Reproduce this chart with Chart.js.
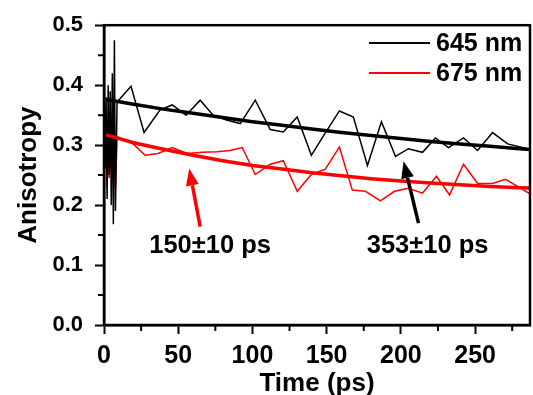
<!DOCTYPE html>
<html>
<head>
<meta charset="utf-8">
<script src="https://cdn.jsdelivr.net/npm/chart.js@4.4.1/dist/chart.umd.min.js"></script>
<style>
    body { margin: 0; background: #fff; }
    #wrap { width: 533px; height: 395px; position: relative; }
</style>
</head>
<body>
<div id="wrap"><canvas id="anisoChart"></canvas></div>
<script>
// Anisotropy decay traces (time in ps)
const seriesLabels = ["645 nm", "675 nm"];
const lifetimeLabels = ["353\u00B110 ps", "150\u00B110 ps"];

const blackTime = [0, 0.7, 1.4, 2.1, 2.8, 3.5, 4.2, 4.9, 5.6, 6.3, 7.0, 7.7, 8.8,
    18.2, 27, 37.8, 45.9, 55.3, 64.8, 73.5, 82.5, 91.8, 101.9,
    112, 120.8, 130.2, 139.7, 149, 158.6, 168, 177.5, 186.9, 196.4,
    205.1, 214.6, 223.3, 232.1, 242.2, 251.7, 261.8, 271.9, 285.4];
const blackAniso = [0.36, 0.26, 0.38, 0.21, 0.40, 0.25, 0.39, 0.20, 0.42, 0.168, 0.475, 0.19, 0.372,
    0.398, 0.321, 0.359, 0.367, 0.350, 0.375, 0.350, 0.342, 0.336, 0.375,
    0.326, 0.322, 0.347, 0.283, 0.32, 0.357, 0.347, 0.266, 0.339, 0.281,
    0.294, 0.288, 0.312, 0.296, 0.312, 0.291, 0.321, 0.302, 0.294];

const redTime = [0, 0.7, 1.4, 2.1, 2.8, 3.5, 4.2, 4.9, 5.6, 6.3, 7.0, 7.7, 8.8,
    19.6, 27.7, 36.4, 45.9, 56, 66.1, 76.2, 85, 93.1, 101.9,
    112, 120.8, 130.2, 139.7, 149.1, 158.6, 167.3, 176.1, 186.2, 195.7,
    205.1, 214.6, 224, 232.8, 242.2, 251.7, 261.8, 270.6, 279.4, 288.1];
const redAniso = [0.31, 0.27, 0.319, 0.231, 0.31, 0.245, 0.30, 0.26, 0.30, 0.25, 0.306, 0.223, 0.314,
    0.302, 0.283, 0.286, 0.296, 0.286, 0.288, 0.289, 0.291, 0.296, 0.251,
    0.268, 0.274, 0.223, 0.251, 0.260, 0.297, 0.225, 0.223, 0.207, 0.223,
    0.228, 0.220, 0.248, 0.217, 0.268, 0.236, 0.236, 0.243, 0.230, 0.217];

// Exponential fit curves
const fitTime = [1.5, 20, 40, 60, 80, 100, 120, 140, 160, 180, 200, 220, 240, 260, 280, 290];
const fitBlack = [0.376, 0.368, 0.360, 0.353, 0.346, 0.339, 0.333, 0.327, 0.321, 0.316, 0.311, 0.306, 0.302, 0.298, 0.294, 0.292];
const fitRed = [0.317, 0.304, 0.293, 0.283, 0.274, 0.266, 0.260, 0.254, 0.249, 0.244, 0.240, 0.237, 0.234, 0.231, 0.229, 0.228];

const FONT = "'Liberation Sans', Arial, sans-serif";

function toPoints(xs, ys) {
    return xs.map((x, i) => ({ x: x, y: ys[i] }));
}

// Frame, minor ticks, legend and the lifetime arrows
const extras = {
    id: "extras",
    afterDraw(chart) {
        const ctx = chart.ctx;
        const a = chart.chartArea;
        const sx = chart.scales.x;
        const sy = chart.scales.y;
        ctx.save();

        ctx.strokeStyle = "#000";
        ctx.lineWidth = 2.5;
        ctx.strokeRect(a.left, a.top, a.right - a.left, a.bottom - a.top);

        ctx.lineWidth = 2;
        ctx.beginPath();
        for (let v = 25; v < sx.max; v += 50) {
            const px = sx.getPixelForValue(v);
            ctx.moveTo(px, a.bottom);
            ctx.lineTo(px, a.bottom + 6);
        }
        for (let v = 0.05; v < 0.5; v += 0.1) {
            const py = sy.getPixelForValue(v);
            ctx.moveTo(a.left, py);
            ctx.lineTo(a.left - 6, py);
        }
        ctx.stroke();

        // legend
        const colors = ["#000000", "#ff0000"];
        ctx.font = "bold 25px " + FONT;
        ctx.textBaseline = "middle";
        ctx.textAlign = "left";
        seriesLabels.forEach((lab, i) => {
            const y = 43 + i * 30;
            ctx.strokeStyle = colors[i];
            ctx.lineWidth = 2;
            ctx.beginPath();
            ctx.moveTo(369, y);
            ctx.lineTo(430, y);
            ctx.stroke();
            ctx.fillStyle = "#000";
            ctx.fillText(lab, 436, y + 1);
        });

        // arrows pointing at the fits
        drawArrow(ctx, sx, sy, 211.9, 0.170, 201.8, 0.273, "#000");
        drawArrow(ctx, sx, sy, 64.8, 0.164, 57.4, 0.261, "#ff0000");

        ctx.fillStyle = "#000";
        ctx.textAlign = "center";
        ctx.font = "bold 25.5px " + FONT;
        ctx.fillText(lifetimeLabels[0], sx.getPixelForValue(218), sy.getPixelForValue(0.132));
        ctx.fillText(lifetimeLabels[1], sx.getPixelForValue(71.5), sy.getPixelForValue(0.132));
        ctx.restore();
    }
};

function drawArrow(ctx, sx, sy, x0, y0, x1, y1, color) {
    const ax = sx.getPixelForValue(x0), ay = sy.getPixelForValue(y0);
    const bx = sx.getPixelForValue(x1), by = sy.getPixelForValue(y1);
    const ang = Math.atan2(by - ay, bx - ax);
    const head = 17, half = 6.5;
    const hx = bx - head * Math.cos(ang), hy = by - head * Math.sin(ang);
    ctx.strokeStyle = color;
    ctx.fillStyle = color;
    ctx.lineWidth = 3.5;
    ctx.beginPath();
    ctx.moveTo(ax, ay);
    ctx.lineTo(hx, hy);
    ctx.stroke();
    ctx.beginPath();
    ctx.moveTo(bx, by);
    ctx.lineTo(hx + half * Math.sin(ang), hy - half * Math.cos(ang));
    ctx.lineTo(hx - half * Math.sin(ang), hy + half * Math.cos(ang));
    ctx.closePath();
    ctx.fill();
}

const ctx = document.getElementById("anisoChart").getContext("2d");
new Chart(ctx, {
    type: "scatter",
    data: {
        datasets: [
            { label: seriesLabels[0] + " fit", data: toPoints(fitTime, fitBlack), borderColor: "#000", borderWidth: 3.5 },
            { label: seriesLabels[1] + " fit", data: toPoints(fitTime, fitRed), borderColor: "#ff0000", borderWidth: 3.5 },
            { label: seriesLabels[0], data: toPoints(blackTime, blackAniso), borderColor: "#000", borderWidth: 1.5 },
            { label: seriesLabels[1], data: toPoints(redTime, redAniso), borderColor: "#ff0000", borderWidth: 1.5 }
        ].map(d => Object.assign(d, { showLine: true, pointRadius: 0, tension: 0, fill: false }))
    },
    options: {
        responsive: true,
        maintainAspectRatio: false,
        animation: false,
        events: [],
        layout: { padding: { top: 22, right: 3, left: 0, bottom: 0 } },
        plugins: {
            legend: { display: false },
            tooltip: { enabled: false }
        },
        scales: {
            x: {
                type: "linear",
                min: 0,
                max: 287,
                afterFit: s => { s.height = 70; },
                border: { display: true, color: "#000", width: 2.5 },
                grid: { drawOnChartArea: false, drawTicks: true, tickLength: 9, tickWidth: 2, tickColor: "#000", color: "#000" },
                ticks: {
                    stepSize: 50,
                    includeBounds: false,
                    maxRotation: 0,
                    padding: 7,
                    color: "#000",
                    font: { family: FONT, size: 25, weight: "bold" }
                },
                title: {
                    display: true,
                    text: "Time (ps)",
                    color: "#000",
                    padding: { top: 0, bottom: -4 },
                    font: { family: FONT, size: 26, weight: "bold" }
                }
            },
            y: {
                min: 0,
                max: 0.5,
                afterFit: s => { s.width = 104; },
                border: { display: true, color: "#000", width: 2.5 },
                grid: { drawOnChartArea: false, drawTicks: true, tickLength: 9, tickWidth: 2, tickColor: "#000", color: "#000" },
                ticks: {
                    stepSize: 0.1,
                    padding: 12,
                    color: "#000",
                    callback: v => v.toFixed(1),
                    font: { family: FONT, size: 22, weight: "bold" }
                },
                title: {
                    display: true,
                    text: "Anisotropy",
                    color: "#000",
                    padding: { top: 13, bottom: 0 },
                    font: { family: FONT, size: 26, weight: "bold" }
                }
            }
        }
    },
    plugins: [extras]
});
</script>
</body>
</html>
